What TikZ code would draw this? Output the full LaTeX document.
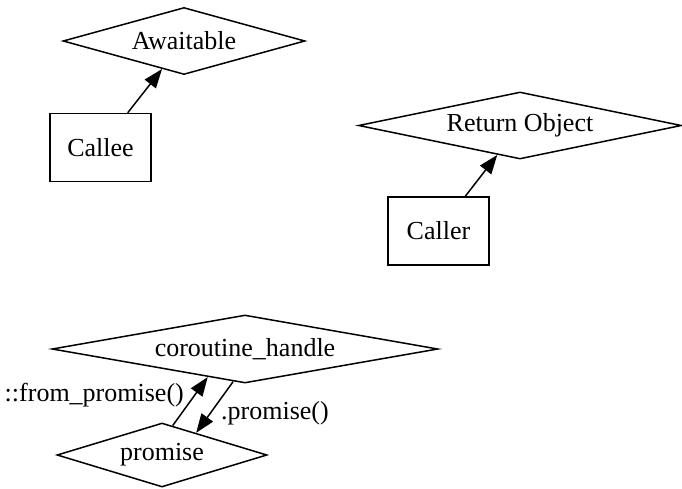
\documentclass[tikz,border=0pt]{standalone}
\usepackage{fontspec}
\setmainfont{Liberation Serif}
\usetikzlibrary{shapes.geometric,arrows.meta}

\newcommand\gvfont{\fontsize{26}{31}\selectfont}

\tikzset{
  gvline/.style={line width=1.5pt},
  dia/.style={diamond, draw, gvline, inner sep=0pt, shape aspect=4.5, font=\gvfont},
  box/.style={rectangle, draw, gvline, inner sep=0pt, minimum width=101pt, minimum height=68pt, font=\gvfont},
  link/.style={gvline, -{Triangle[length=19pt,width=14pt]}},
  lbl/.style={inner sep=0pt, font=\gvfont}
}

\begin{document}
\begin{tikzpicture}[x=1pt,y=-1pt]
  \useasboundingbox (0,0) rectangle (682,488);

  % upper left pair
  \node[dia, minimum width=242pt, minimum height=67pt] (awaitable) at (184,41) {Awaitable};
  \node[box] (callee) at (100.5,147.5) {Callee};
  \draw[link] (callee) -- (awaitable);

  % upper right pair
  \node[dia, minimum width=323pt, minimum height=67pt] (retobj) at (520,125.5) {Return Object};
  \node[box] (caller) at (438.5,231) {Caller};
  \draw[link] (caller) -- (retobj);

  % handle and promise, linked both ways
  \node[dia, minimum width=386pt, minimum height=68pt] (handle) at (245,349) {coroutine\_handle};
  \node[dia, minimum width=210pt, minimum height=64pt] (promise) at (162,455) {promise};
  \draw[link] (promise.70) -- (handle.217);
  \draw[link] (handle.250) -- (promise.33);
  \node[lbl, anchor=east] (lblfrom) at (184,395) {::from\_promise()};
  \node[lbl, anchor=west] (lblprom) at (221,413) {.promise()};
\end{tikzpicture}
\end{document}
